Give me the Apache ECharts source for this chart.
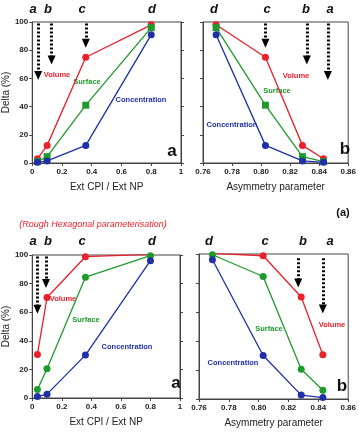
<!DOCTYPE html>
<html><head><meta charset="utf-8">
<script src="https://cdn.jsdelivr.net/npm/echarts@6/dist/echarts.min.js"></script>
<style>html,body{margin:0;padding:0;background:#fff}#c{width:359px;height:437px}</style>
</head><body><div id="c"></div>
<script>
// Top panels (a: vs Ext CPI/Ext NP, b: vs asymmetry parameter)
const ratioX = [0.035, 0.1, 0.36, 0.8];
const asymX = [0.843, 0.8285, 0.803, 0.769];
const topVolume = [3, 12.5, 75, 98];
const topSurface = [1, 4.5, 41, 96];
const topConc = [0.5, 1.5, 12.5, 91];
// Bottom panels (Rough Hexagonal parameterisation)
const botVolume = [30.5, 70.3, 98.8, 100.5];
const botSurface = [6, 20.5, 84.5, 99.5];
const botConc = [1, 2.7, 30, 96];
const letters = ['a', 'b', 'c', 'd'];
// arrow tips (Delta %) for each panel
const topArrowTips = [62, 73, 85];     // a, b, c
const botArrowTips = [62, 80];         // a, b
const yTicks = [0, 20, 40, 60, 80, 100];

const RED = '#e8212b', GREEN = '#1f9a2c', BLUE = '#1f2fa8';
const font = 'Liberation Sans, Arial, sans-serif';

const grids = [
  {left: 28, top: 22, width: 153, height: 141},
  {left: 203, top: 22, width: 150, height: 141},
  {left: 28, top: 255, width: 152, height: 143},
  {left: 199, top: 254, width: 156, height: 145}
];

function xAx(i, min, max, interval, name, dec) {
  return {
    type: 'value', gridIndex: i, min, max, interval,
    axisLine: {show: true, lineStyle: {color: '#444', width: 1}},
    axisTick: {show: true, length: 3, lineStyle: {color: '#444'}},
    splitLine: {show: false},
    axisLabel: {fontSize: 8, fontWeight: 'bold', color: '#222', fontFamily: font, margin: 5,
      formatter: v => (Math.abs(v) < 1e-9 ? '0' : (Math.abs(v - Math.round(v)) < 1e-9 ? String(Math.round(v)) : v.toFixed(dec)))},
    name, nameLocation: 'middle', nameGap: 19,
    nameTextStyle: {fontSize: 10, color: '#222', fontFamily: font}
  };
}
function yAx(i, labels) {
  return {
    type: 'value', gridIndex: i, min: 0, max: 100, interval: 20,
    axisLine: {show: true, lineStyle: {color: '#444', width: 1}},
    axisTick: {show: true, length: 3, lineStyle: {color: '#444'}},
    splitLine: {show: false},
    axisLabel: {show: labels, fontSize: 8, fontWeight: 'bold', color: '#222', fontFamily: font, margin: 4},
    name: labels ? 'Delta (%)' : '', nameLocation: 'middle', nameGap: 19,
    nameTextStyle: {fontSize: 10, color: '#222', fontFamily: font}
  };
}
function yRight(i) {
  return {
    type: 'value', gridIndex: i, min: 0, max: 100, interval: 20, position: 'right',
    axisLine: {show: true, lineStyle: {color: '#444', width: 1}},
    axisTick: {show: true, length: 3, lineStyle: {color: '#444'}},
    splitLine: {show: false}, axisLabel: {show: false}
  };
}

function line(i, xs, ys, color, sym) {
  return {
    type: 'line', xAxisIndex: i, yAxisIndex: i,
    data: xs.map((x, k) => [x, ys[k]]),
    symbol: sym, symbolSize: 7, showSymbol: true,
    lineStyle: {color, width: 1.3}, itemStyle: {color},
    z: 3
  };
}
function arrows(i, xs, tips, top) {
  return {
    type: 'line', xAxisIndex: i, yAxisIndex: i, data: [],
    markLine: {
      silent: true, symbol: ['none', 'triangle'], symbolSize: [8, 9],
      label: {show: false},
      lineStyle: {color: '#000', type: [2, 2], width: 3},
      data: xs.map((x, k) => [{coord: [x, top]}, {coord: [x, tips[k]]}])
    }
  };
}

const option = {
  animation: false,
  grid: grids.map(g => Object.assign({show: true, borderColor: '#444', borderWidth: 1, backgroundColor: 'transparent'}, g)),
  xAxis: [
    xAx(0, 0, 1, 0.2, 'Ext CPI / Ext NP', 1),
    xAx(1, 0.76, 0.86, 0.02, 'Asymmetry parameter', 2),
    xAx(2, 0, 1, 0.2, 'Ext CPI / Ext NP', 1),
    xAx(3, 0.76, 0.86, 0.02, 'Asymmetry parameter', 2)
  ],
  yAxis: [yAx(0, true), yAx(1, false), yAx(2, true), yAx(3, false), yRight(0), yRight(2)],
  series: [
    line(0, ratioX, topVolume, RED, 'circle'),
    line(0, ratioX, topSurface, GREEN, 'rect'),
    line(0, ratioX, topConc, BLUE, 'circle'),
    line(1, asymX, topVolume, RED, 'circle'),
    line(1, asymX, topSurface, GREEN, 'rect'),
    line(1, asymX, topConc, BLUE, 'circle'),
    line(2, ratioX, botVolume, RED, 'circle'),
    line(2, ratioX, botSurface, GREEN, 'circle'),
    line(2, ratioX, botConc, BLUE, 'circle'),
    line(3, asymX, botVolume, RED, 'circle'),
    line(3, asymX, botSurface, GREEN, 'circle'),
    line(3, asymX, botConc, BLUE, 'circle'),
    arrows(0, [0.04, 0.13, 0.36], topArrowTips, 99),
    arrows(1, [0.846, 0.8315, 0.803], topArrowTips, 99),
    arrows(2, [0.035, 0.093], botArrowTips, 99),
    arrows(3, [0.843, 0.8265], [62, 80], 97)
  ],
  graphic: []
};

function txt(x, y, text, style) {
  option.graphic.push({type: 'text', x, y, style: Object.assign({text, fontFamily: font, textAlign: 'center', textVerticalAlign: 'middle'}, style)});
}
const letterStyle = {fontSize: 13, fontWeight: 'bold', fontStyle: 'italic', fill: '#111'};
[33, 48, 82, 152].forEach((x, k) => txt(x, 9, letters[k], letterStyle));
[330, 306, 267, 214].forEach((x, k) => txt(x, 9, letters[k], letterStyle));
[33, 48, 82, 152].forEach((x, k) => txt(x, 241, letters[k], letterStyle));
[330, 303, 265, 209].forEach((x, k) => txt(x, 241, letters[k], letterStyle));

const big = {fontSize: 17, fontWeight: 'bold', fill: '#111'};
txt(172, 151, 'a', big); txt(345, 149, 'b', big);
txt(176, 383, 'a', big); txt(342, 386, 'b', big);
txt(343, 213, '(a)', {fontSize: 11, fontWeight: 'bold', fill: '#111'});
txt(93, 224, '(Rough Hexagonal parameterisation)', {fontSize: 9, fontStyle: 'italic', fill: RED});

const lab = c => ({fontSize: 7.5, fontWeight: 'bold', fill: c});
txt(57, 75, 'Volume', lab(RED)); txt(87, 82, 'Surface', lab(GREEN)); txt(141, 100, 'Concentration', lab(BLUE));
txt(296, 76, 'Volume', lab(RED)); txt(277, 91, 'Surface', lab(GREEN)); txt(232, 125, 'Concentration', lab(BLUE));
txt(63, 299, 'Volume', lab(RED)); txt(86, 320, 'Surface', lab(GREEN)); txt(127, 347, 'Concentration', lab(BLUE));
txt(332, 325, 'Volume', lab(RED)); txt(269, 329, 'Surface', lab(GREEN)); txt(233, 363, 'Concentration', lab(BLUE));

const chart = echarts.init(document.getElementById('c'), null, {renderer: 'canvas'});
chart.setOption(option);
</script>
</body></html>
